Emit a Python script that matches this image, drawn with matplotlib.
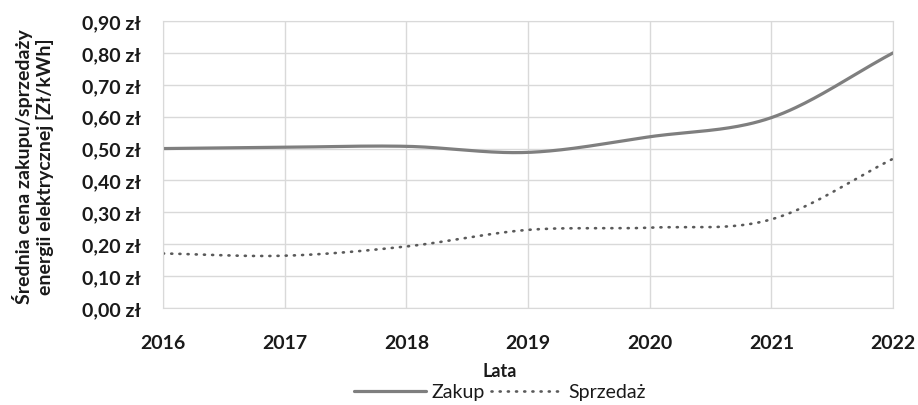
import numpy as np
import matplotlib
matplotlib.use("Agg")
import matplotlib.pyplot as plt
from matplotlib.ticker import FuncFormatter

years = [2016, 2017, 2018, 2019, 2020, 2021, 2022]
zakup = [0.50, 0.504, 0.507, 0.488, 0.537, 0.597, 0.80]
sprzedaz = [0.171, 0.164, 0.193, 0.245, 0.252, 0.278, 0.468]
y_ticks = [0.0, 0.1, 0.2, 0.3, 0.4, 0.5, 0.6, 0.7, 0.8, 0.9]


def smooth(xs, ys, n=40):
    """Catmull-Rom curve through the points (spreadsheet-style smoothed line)."""
    xs = np.asarray(xs, float)
    ys = np.asarray(ys, float)
    px = np.concatenate([[2 * xs[0] - xs[1]], xs, [2 * xs[-1] - xs[-2]]])
    py = np.concatenate([[2 * ys[0] - ys[1]], ys, [2 * ys[-1] - ys[-2]]])
    ox, oy = [], []
    t = np.linspace(0, 1, n, endpoint=False)
    for i in range(1, len(px) - 2):
        for arr, out in ((px, ox), (py, oy)):
            p0, p1, p2, p3 = arr[i - 1], arr[i], arr[i + 1], arr[i + 2]
            out.extend(0.5 * ((2 * p1) + (-p0 + p2) * t
                              + (2 * p0 - 5 * p1 + 4 * p2 - p3) * t ** 2
                              + (-p0 + 3 * p1 - 3 * p2 + p3) * t ** 3))
    ox.append(xs[-1])
    oy.append(ys[-1])
    return np.array(ox), np.array(oy)


plt.rcParams['font.family'] = ['Lato', 'DejaVu Sans']
TXT = '#1a1a1a'

fig = plt.figure(figsize=(9.18, 4.06), dpi=100)
ax = fig.add_axes([0.1776, 0.2389, 0.7952, 0.7069])

zx, zy = smooth(years, zakup)
sx, sy = smooth(years, sprzedaz)
ax.plot(zx, zy, color='#7f7f7f', lw=2.3, solid_capstyle='round', label='Zakup')
ax.plot(sx, sy, color='#5a5a5a', lw=1.9, linestyle=(0, (0.4, 2.7)),
        dash_capstyle='round', label='Sprzedaż')

ax.set_xlim(2016, 2022)
ax.set_ylim(0, 0.9)
ax.set_xticks(years)
ax.set_yticks(y_ticks)
ax.yaxis.set_major_formatter(FuncFormatter(lambda v, p: f"{v:.2f}".replace('.', ',') + " zł"))
ax.grid(True, color='#d9d9d9', lw=1)
ax.set_axisbelow(True)
for s in ax.spines.values():
    s.set_color('#d9d9d9')
ax.tick_params(axis='x', length=0, labelsize=14, pad=19)
ax.tick_params(axis='y', length=0, labelsize=14, pad=16)
for lab in ax.get_xticklabels() + ax.get_yticklabels():
    lab.set_fontweight('bold')
    lab.set_color(TXT)

fig.text(500 / 918, 1 - 372 / 406, 'Lata', ha='center', va='center',
         fontsize=13, fontweight='bold', color=TXT)
fig.text(33 / 918, 1 - 167 / 406,
         'Średnia cena zakupu/sprzedaży\nenergii elektrycznej [Zł/kWh]',
         rotation=90, ha='center', va='center', fontsize=14, fontweight='bold',
         color=TXT, linespacing=1.2)

leg = fig.legend(loc='center', bbox_to_anchor=(500 / 918, 1 - 393 / 406), ncol=2,
                 frameon=False, fontsize=14, handlelength=3.7, columnspacing=0.3,
                 handletextpad=0.3)
for t in leg.get_texts():
    t.set_color(TXT)

fig.savefig('out.png', dpi=100, facecolor='white')
